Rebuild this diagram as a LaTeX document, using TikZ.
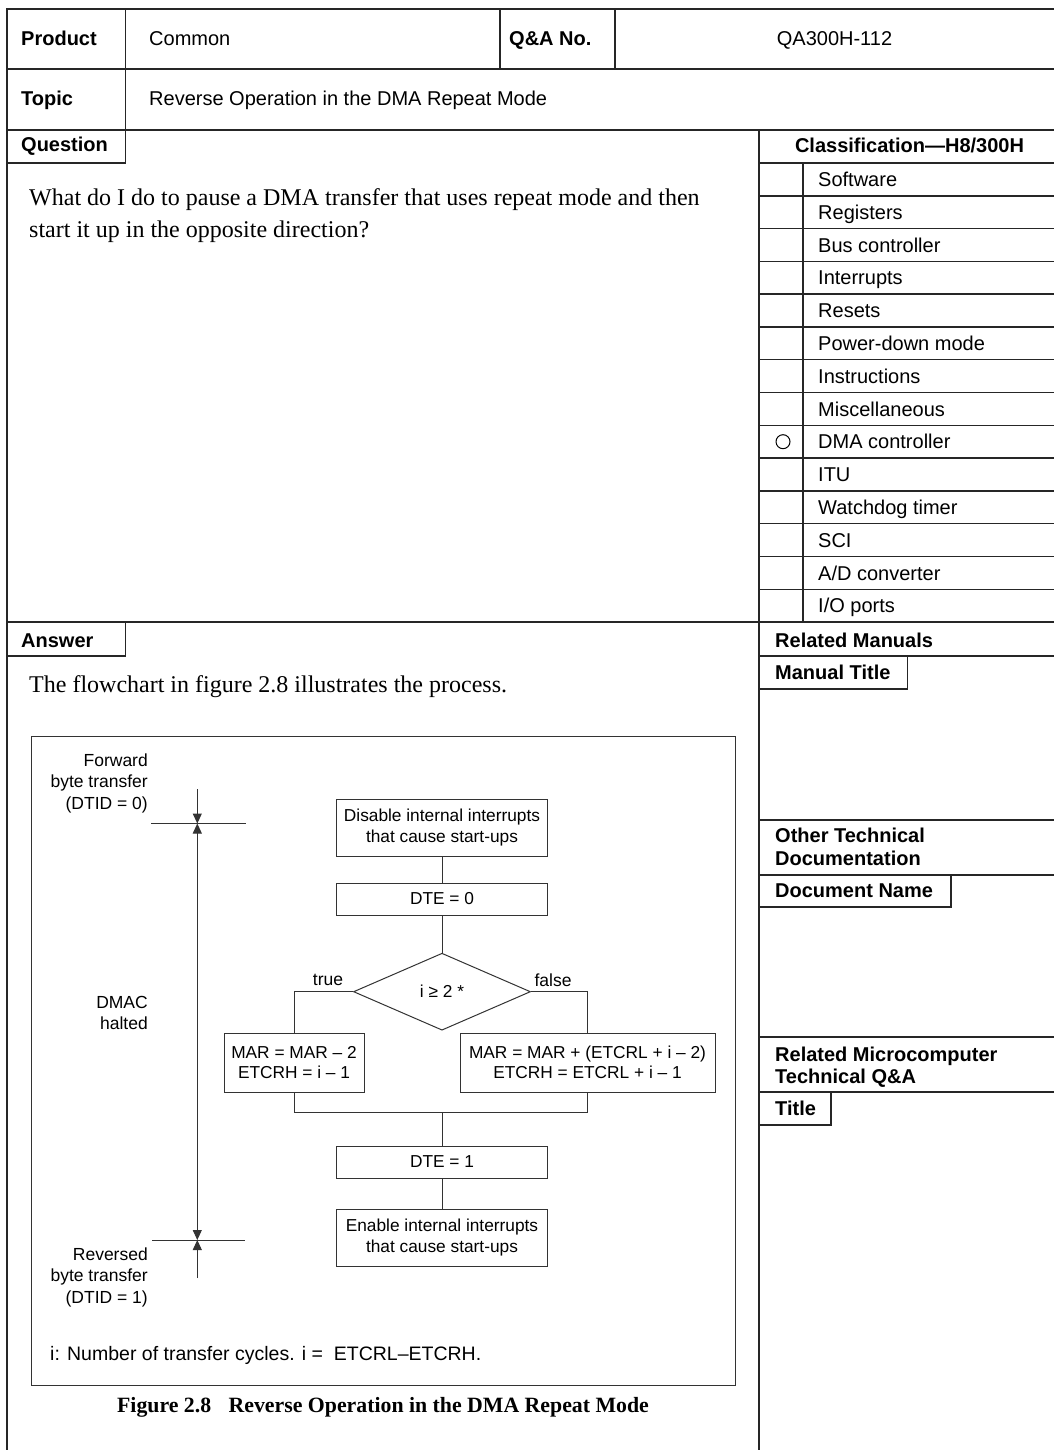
\documentclass[tikz,border=0pt]{standalone}
\usepackage{fontspec}
\setmainfont{Liberation Serif}
\setsansfont{Liberation Sans}
\usetikzlibrary{shapes.geometric,arrows.meta}
\begin{document}
\begin{tikzpicture}[x=1pt,y=-1pt,
  >={Triangle[length=10pt,width=9pt]},
  frame/.style={line width=1.5pt, draw=black!85},
  hd/.style={font=\sffamily\bfseries\fontsize{20}{22.3}\selectfont, inner sep=0pt, anchor=base west, align=left},
  tx/.style={font=\sffamily\fontsize{20}{23}\selectfont, inner sep=0pt, anchor=base west},
  body/.style={font=\rmfamily\fontsize{24}{32}\selectfont, inner sep=0pt, anchor=base west},
  flow/.style={draw=black!80, line width=1pt},
  fbox/.style={flow, rectangle, font=\sffamily\fontsize{17.3}{20.5}\selectfont, align=center, inner sep=0pt, minimum width=211pt},
  flbl/.style={font=\sffamily\fontsize{17.5}{21.5}\selectfont, inner sep=0pt, align=right, anchor=east},
]
\useasboundingbox (0,0) rectangle (1054,1450);
\fill[white] (0,0) rectangle (1054,1450);

% ---------- table frame ----------
\draw[frame] (7,1450) -- (7,9) -- (1054,9);
\draw[frame] (7,69) -- (1054,69);
\draw[frame] (7,130) -- (1054,130);
\draw[frame] (125.7,9) -- (125.7,130);
\draw[frame] (500,9) -- (500,69);
\draw[frame] (615,9) -- (615,69);
\draw[frame] (7,163) -- (125.7,163) -- (125.7,130);
\draw[frame] (759,130) -- (759,1450);
\foreach \k in {1,...,14} { \draw[frame] (759,163+\k*32.79-32.79) -- (1054,163+\k*32.79-32.79); }
\draw[frame] (803,163) -- (803,622);
\draw[frame] (7,622) -- (1054,622);
\draw[frame] (7,656) -- (125.7,656) -- (125.7,622);
\draw[frame] (759,656) -- (1054,656);
\draw[frame] (759,689) -- (907.7,689) -- (907.7,656);
\draw[frame] (759,820) -- (1054,820);
\draw[frame] (759,875) -- (1054,875);
\draw[frame] (759,907) -- (951,907) -- (951,875);
\draw[frame] (759,1037) -- (1054,1037);
\draw[frame] (759,1092) -- (1054,1092);
\draw[frame] (759,1125) -- (831,1125) -- (831,1092);

% ---------- header texts ----------
\node[hd] (product) at (21,45.5) {Product};
\node[tx] (common) at (149,45.5) {Common};
\node[hd] (qa) at (509,45.5) {Q\&A No.};
\node[tx, anchor=base] (qano) at (834.5,45.5) {QA300H-112};
\node[hd] (topic) at (21,106) {Topic};
\node[tx] (topictx) at (149,106) {Reverse Operation in the DMA Repeat Mode};
\node[hd] (question) at (21,152) {Question};
\node[hd, anchor=base] (classif) at (909.5,153) {Classification—H8/300H};

\foreach \t [count=\k] in {Software,Registers,Bus controller,Interrupts,Resets,Power-down mode,Instructions,Miscellaneous,DMA controller,ITU,Watchdog timer,SCI,A/D converter,I/O ports} {
  \node[tx] (item\k) at (818,163+\k*32.79-16.4+7.2) {\t};
}
\draw[line width=1pt] (783,441.7) circle (7);

\node[body] (q1) at (29,205.5) {What do I do to pause a DMA transfer that uses repeat mode and then};
\node[body] (q2) at (29,237.5) {start it up in the opposite direction?};
\node[hd] (answer) at (21,647.5) {Answer};
\node[body] (a1) at (29,692.5) {The flowchart in figure 2.8 illustrates the process.};

\node[hd] (relman) at (775,647.3) {Related Manuals};
\node[hd] (mantitle) at (775,679.3) {Manual Title};
\node[hd] (othertech) at (775,865) {Other Technical\\Documentation};
\node[hd] (docname) at (775,897.3) {Document Name};
\node[hd] (relmicro) at (775,1083.3) {Related Microcomputer\\Technical Q\&A};
\node[hd] (title) at (775,1115) {Title};

% ---------- flowchart ----------
\draw[flow] (31,736) rectangle (735,1385);

\node[fbox, minimum height=57pt] (b1) at (442,827.5) {Disable internal interrupts\\that cause start-ups};
\node[fbox, minimum height=32pt] (b2) at (442,899) {DTE = 0};
\node[flow, diamond, minimum width=177pt, minimum height=77pt, inner sep=0pt, font=\sffamily\fontsize{17.3}{20.5}\selectfont] (dia) at (442,991.7) {i ≥ 2 *};
\node[fbox, minimum width=140pt, minimum height=59pt] (lb) at (294,1062.5) {MAR = MAR – 2\\ETCRH = i – 1};
\node[fbox, minimum width=255pt, minimum height=59pt] (rb) at (587.5,1062.5) {MAR = MAR + (ETCRL + i – 2)\\ETCRH = ETCRL + i – 1};
\node[fbox, minimum height=32pt] (b3) at (442,1162) {DTE = 1};
\node[fbox, minimum height=57pt] (b4) at (442,1237.5) {Enable internal interrupts\\that cause start-ups};
\coordinate (m) at (442,1112.3);

\draw[flow] (b1) -- (b2);
\draw[flow] (b2) -- (dia);
\draw[flow] (dia.west) -| (lb.north);
\draw[flow] (dia.east) -| (rb.north);
\draw[flow] (lb.south) |- (m) -| (rb.south);
\draw[flow] (m) -- (b3);
\draw[flow] (b3) -- (b4);

\node[font=\sffamily\fontsize{17.5}{20}\selectfont, inner sep=0pt] (true) at (328,980) {true};
\node[font=\sffamily\fontsize{17.5}{20}\selectfont, inner sep=0pt] (false) at (553,980) {false};

% dimension marks
\coordinate (tt1) at (151,823.5); \coordinate (tt2) at (245.5,823.5);
\coordinate (tb1) at (152,1240); \coordinate (tb2) at (245,1240);
\coordinate (a0) at (197.3,789); \coordinate (atop) at (197.3,823.5);
\coordinate (abot) at (197.3,1240); \coordinate (a1e) at (197.3,1278);
\draw[flow] (tt1) -- (tt2);
\draw[flow] (tb1) -- (tb2);
\draw[flow, ->] (a0) -- (atop);
\draw[flow, <->] (atop) -- (abot);
\draw[flow, ->] (a1e) -- (abot);

\node[flbl] (fwd) at (148,783) {Forward\\byte transfer\\(DTID = 0)};
\node[flbl] (dmac) at (148,1013) {DMAC\\halted};
\node[flbl] (rev) at (148,1277) {Reversed\\byte transfer\\(DTID = 1)};

\node[font=\sffamily\fontsize{19.5}{22}\selectfont, anchor=west, inner sep=0pt] (note) at (50,1355) {i: Number of transfer cycles. i = \ ETCRL–ETCRH.};

\node[font=\rmfamily\bfseries\fontsize{21.8}{24}\selectfont, inner sep=0pt] (cap) at (383,1407) {Figure 2.8\hspace{0.8em}Reverse Operation in the DMA Repeat Mode};
\end{tikzpicture}
\end{document}
